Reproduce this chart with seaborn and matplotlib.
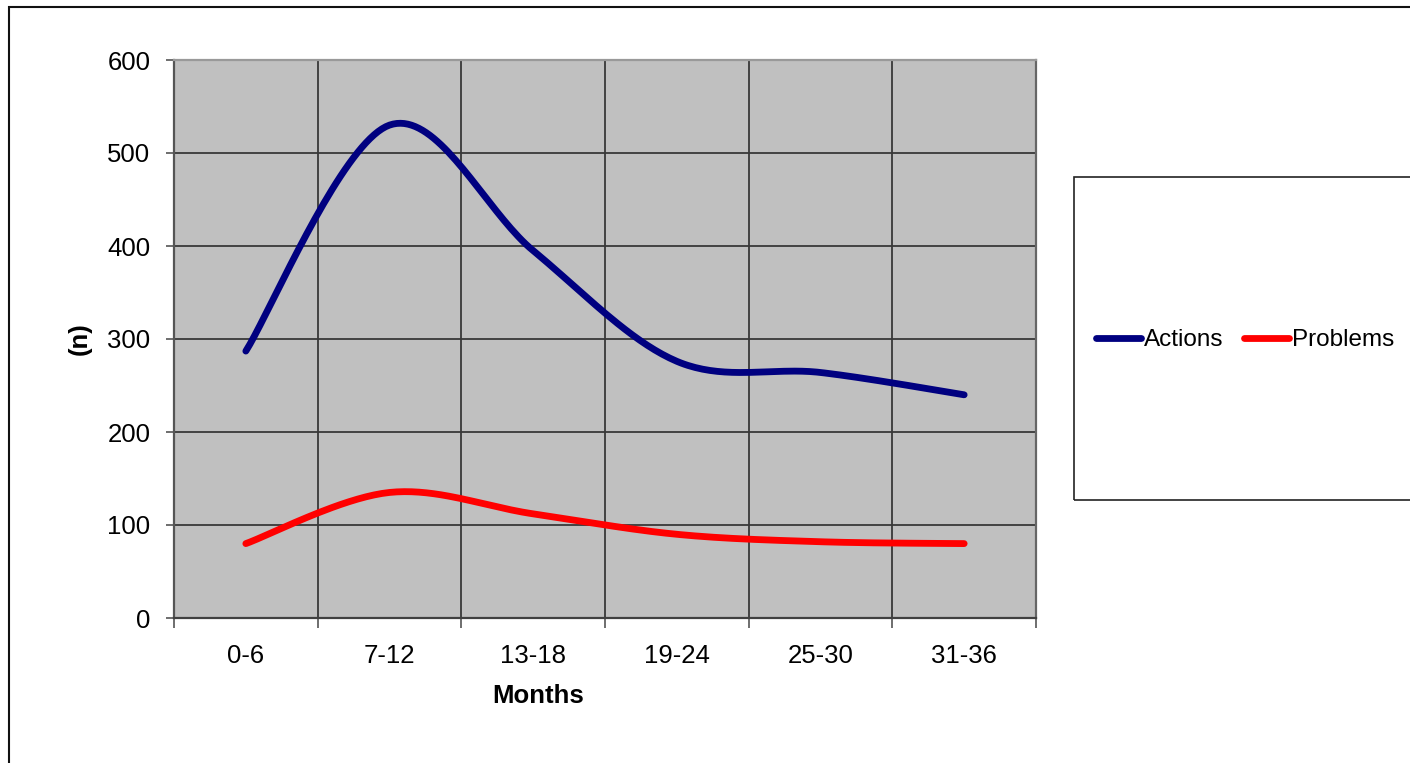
import numpy as np
import pandas as pd
import matplotlib
matplotlib.use("Agg")
import matplotlib.pyplot as plt
from matplotlib.patches import Rectangle
from matplotlib.lines import Line2D
import seaborn as sns

months = ["0-6", "7-12", "13-18", "19-24", "25-30", "31-36"]
actions = [287, 530, 395, 276, 264, 240]
problems = [80, 135, 112, 90, 82, 80]
series_names = ["Actions", "Problems"]
series_colors = ["#000080", "#FF0000"]


def smooth(xs, ys, steps=40):
    # excel-like smoothed line: cubic bezier with catmull-rom control points
    xs = np.asarray(xs, float)
    ys = np.asarray(ys, float)
    px = np.r_[xs[0], xs, xs[-1]]
    py = np.r_[ys[0], ys, ys[-1]]
    out_x, out_y = [], []
    t = np.linspace(0, 1, steps)
    for i in range(1, len(px) - 2):
        p0 = np.array([px[i], py[i]])
        p3 = np.array([px[i + 1], py[i + 1]])
        c1 = p0 + (np.array([px[i + 1], py[i + 1]]) - np.array([px[i - 1], py[i - 1]])) / 6
        c2 = p3 - (np.array([px[i + 2], py[i + 2]]) - np.array([px[i], py[i]])) / 6
        b = ((1 - t) ** 3)[:, None] * p0 + (3 * (1 - t) ** 2 * t)[:, None] * c1 \
            + (3 * (1 - t) * t ** 2)[:, None] * c2 + (t ** 3)[:, None] * p3
        out_x.extend(b[:, 0])
        out_y.extend(b[:, 1])
    return np.array(out_x), np.array(out_y)


sns.set_theme(style="white")
plt.rcParams["font.family"] = ["Liberation Sans", "DejaVu Sans"]
plt.rcParams.update({"text.color": "black", "axes.labelcolor": "black",
                     "xtick.labelcolor": "black", "ytick.labelcolor": "black"})

fs = 18.5
lw = 4.9

fig = plt.figure(figsize=(14.1, 7.63), dpi=100)
ax = fig.add_axes([174 / 1410, 1 - 618 / 763, (1036 - 174) / 1410, (618 - 60) / 763])
ax.set_facecolor("#C0C0C0")

xpos = np.arange(len(months))
for name, vals, col in zip(series_names, [actions, problems], series_colors):
    sx, sy = smooth(xpos, vals)
    df = pd.DataFrame({"x": sx, "y": sy})
    sns.lineplot(data=df, x="x", y="y", sort=False, color=col, lw=lw,
                 solid_capstyle="round", ax=ax, label=None)

ax.set_xlim(-0.5, len(months) - 0.5)
ax.set_ylim(0, 600)
ax.set_yticks(np.arange(0, 601, 100))
ax.set_xticks(xpos)
ax.set_xticklabels(months)
ax.set_xticks(np.arange(-0.5, len(months)), minor=True)
ax.tick_params(axis="x", which="major", length=0, labelsize=fs, pad=19)
ax.tick_params(axis="x", which="minor", length=7, width=1.2, direction="out",
               color="#555555", bottom=True)
ax.tick_params(axis="y", length=6, width=1.2, direction="out", color="#555555",
               labelsize=fs, pad=11, left=True)
ax.grid(False)
ax.grid(True, axis="y", which="major", color="#383838", lw=1.3)
ax.grid(True, axis="x", which="minor", color="#383838", lw=1.3)
ax.set_axisbelow(True)

for side, col in [("left", "#555555"), ("bottom", "#404040"), ("right", "#666666"), ("top", "#999999")]:
    ax.spines[side].set_visible(True)
    ax.spines[side].set_color(col)
    ax.spines[side].set_linewidth(1.6)

ax.set_xlabel("Months", fontsize=fs, fontweight="bold")
ax.xaxis.set_label_coords((538 - 174) / (1036 - 174), -0.119)
ax.set_ylabel("(n)", fontsize=fs, fontweight="bold")
ax.yaxis.set_label_coords(-(174 - 92) / (1036 - 174), 0.5)
if ax.get_legend():
    ax.get_legend().remove()

# legend box, runs off the right edge like the source
fig.patches.append(Rectangle((1074 / 1410, 1 - 500 / 763), 0.5, 323 / 763,
                             transform=fig.transFigure, fill=False,
                             edgecolor="#222222", lw=1.2))
handles = [Line2D([], [], color=c, lw=lw, solid_capstyle="round") for c in series_colors]
fig.legend(handles, series_names, loc="center left", ncol=2, frameon=False,
           bbox_to_anchor=(1096 / 1410, 1 - 340 / 763), fontsize=17.5,
           handlelength=1.85, handletextpad=0.12, columnspacing=0.85,
           borderpad=0, borderaxespad=0)

# outer chart border
fig.patches.append(Rectangle((9 / 1410, -0.1), 1.2, 1.1 - 7 / 763,
                             transform=fig.transFigure, fill=False,
                             edgecolor="#111111", lw=1.5))

fig.savefig("out.png", dpi=100, facecolor="white")
